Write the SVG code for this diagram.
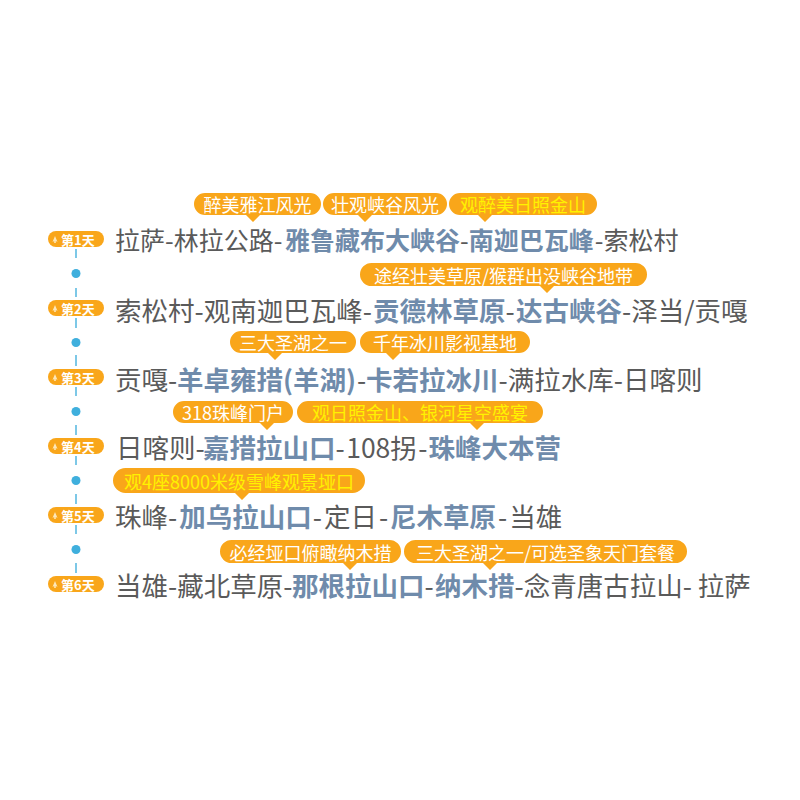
<svg xmlns="http://www.w3.org/2000/svg" width="800" height="800" viewBox="0 0 800 800">
<style>
text{font-family:"Noto Sans CJK SC","Noto Sans",sans-serif;dominant-baseline:central}
.main{fill:#5a5a5a;font-size:26.5px}
.hl{fill:#6f8bab;font-weight:bold}
.bub{fill:#f9a61a}
.bt{fill:#ffffff;font-size:18px;text-anchor:middle}
.by{fill:#fff200;font-size:18px;text-anchor:middle}
.badge{fill:#f9a61a}
.badgetxt{fill:#ffffff;font-size:13px;font-weight:bold}
.icon{fill:#fde7b8}
.tl{stroke:#46b1dd;stroke-width:1.4;fill:none}
.dot{fill:#3fafdd}
</style>
<rect width="800" height="800" fill="#ffffff"/>
<g id="connectors">
<line class="tl" x1="76" y1="249" x2="76" y2="258"/><circle class="dot" cx="76" cy="273.5" r="4.5"/><line class="tl" x1="76" y1="288" x2="76" y2="297"/>
<line class="tl" x1="76" y1="318" x2="76" y2="328"/><circle class="dot" cx="76" cy="342.5" r="4.5"/><line class="tl" x1="76" y1="355" x2="76" y2="366"/>
<line class="tl" x1="76" y1="387" x2="76" y2="396"/><circle class="dot" cx="76" cy="411.5" r="4.5"/><line class="tl" x1="76" y1="425" x2="76" y2="435"/>
<line class="tl" x1="76" y1="456" x2="76" y2="465"/><circle class="dot" cx="76" cy="480.5" r="4.5"/><line class="tl" x1="76" y1="494" x2="76" y2="504"/>
<line class="tl" x1="76" y1="525" x2="76" y2="534"/><circle class="dot" cx="76" cy="549.5" r="4.5"/><line class="tl" x1="76" y1="563" x2="76" y2="573"/>
</g>
<g id="day1">
<rect class="badge" x="48" y="231" width="56" height="16" rx="8"/>
<path class="icon" d="M52.5 242 L55 236 L57.5 242 L55.8 241 L55.8 243 L54.2 243 L54.2 241 Z"/>
<text class="badgetxt" x="61" y="239">第1天</text>
<text class="main" y="239" style="font-size:25px"><tspan x="115">拉萨-林拉公路-</tspan><tspan class="hl" x="285">雅鲁藏布大峡谷</tspan><tspan>-</tspan><tspan class="hl">南迦巴瓦峰</tspan><tspan dx="1">-索松村</tspan></text>
</g>
<g id="day1-tags">
<path class="bub" d="M205 193 H310 A11 11 0 0 1 310 215 H260 L253 222 L246 215 H205 A11 11 0 0 1 205 193 Z"/>
<text class="bt" x="257.5" y="204">醉美雅江风光</text>
<path class="bub" d="M334 193 H436 A11 11 0 0 1 436 215 H372 L365 222 L358 215 H334 A11 11 0 0 1 334 193 Z"/>
<text class="bt" x="385" y="204">壮观峡谷风光</text>
<path class="bub" d="M460 193 H586 A11 11 0 0 1 586 215 H492 L485 222 L478 215 H460 A11 11 0 0 1 460 193 Z"/>
<text class="by" x="523" y="204">观醉美日照金山</text>
</g>
<g id="day2">
<rect class="badge" x="48" y="300" width="56" height="16" rx="8"/>
<path class="icon" d="M52.5 311 L55 305 L57.5 311 L55.8 310 L55.8 312 L54.2 312 L54.2 310 Z"/>
<text class="badgetxt" x="61" y="308">第2天</text>
<text class="main" y="308.5"><tspan x="115">索松村-观南迦巴瓦峰-</tspan><tspan class="hl" x="373">贡德林草原</tspan><tspan>-</tspan><tspan class="hl" x="516">达古峡谷</tspan><tspan>-泽当/贡嘎</tspan></text>
</g>
<g id="day2-tags">
<path class="bub" d="M371.5 263 H635.5 A11.5 11.5 0 0 1 635.5 286 H554 L547 293 L540 286 H371.5 A11.5 11.5 0 0 1 371.5 263 Z"/>
<text class="bt" x="503.5" y="274.5">途经壮美草原/猴群出没峡谷地带</text>
</g>
<g id="day3">
<rect class="badge" x="48" y="369" width="56" height="16" rx="8"/>
<path class="icon" d="M52.5 380 L55 374 L57.5 380 L55.8 379 L55.8 381 L54.2 381 L54.2 379 Z"/>
<text class="badgetxt" x="61" y="377">第3天</text>
<text class="main" y="377.5"><tspan x="115">贡嘎-</tspan><tspan class="hl" x="177">羊卓雍措(羊湖)</tspan><tspan dx="1">-</tspan><tspan class="hl" x="366">卡若拉冰川</tspan><tspan>-满拉水库-日喀则</tspan></text>
</g>
<g id="day3-tags">
<path class="bub" d="M241 331 H345 A11 11 0 0 1 345 353 H282 L275 360 L268 353 H241 A11 11 0 0 1 241 331 Z"/>
<text class="bt" x="293" y="342">三大圣湖之一</text>
<path class="bub" d="M371 331 H519 A11 11 0 0 1 519 353 H400 L393 360 L386 353 H371 A11 11 0 0 1 371 331 Z"/>
<text class="bt" x="445" y="342">千年冰川影视基地</text>
</g>
<g id="day4">
<rect class="badge" x="48" y="438" width="56" height="16" rx="8"/>
<path class="icon" d="M52.5 449 L55 443 L57.5 449 L55.8 448 L55.8 450 L54.2 450 L54.2 448 Z"/>
<text class="badgetxt" x="61" y="446">第4天</text>
<text class="main" y="446"><tspan x="116">日喀则-</tspan><tspan class="hl" x="203">嘉措拉山口</tspan><tspan>-</tspan><tspan dx="1.5">108拐</tspan><tspan dx="1.5">-</tspan><tspan class="hl" dx="1">珠峰大本营</tspan></text>
</g>
<g id="day4-tags">
<path class="bub" d="M184 401 H282 A11 11 0 0 1 282 423 H274 L267 430 L260 423 H184 A11 11 0 0 1 184 401 Z"/>
<text class="bt" x="233" y="412">318珠峰门户</text>
<path class="bub" d="M308 401 H532 A11 11 0 0 1 532 423 H484 L477 430 L470 423 H308 A11 11 0 0 1 308 401 Z"/>
<text class="by" x="420" y="412">观日照金山、银河星空盛宴</text>
</g>
<g id="day5">
<rect class="badge" x="48" y="507" width="56" height="16" rx="8"/>
<path class="icon" d="M52.5 518 L55 512 L57.5 518 L55.8 517 L55.8 519 L54.2 519 L54.2 517 Z"/>
<text class="badgetxt" x="61" y="515">第5天</text>
<text class="main" y="515"><tspan x="115">珠峰-</tspan><tspan class="hl" dx="2">加乌拉山口</tspan><tspan dx="1">-</tspan><tspan dx="2">定日</tspan><tspan dx="2">-</tspan><tspan class="hl" dx="2">尼木草原</tspan><tspan dx="2">-</tspan><tspan dx="2">当雄</tspan></text>
</g>
<g id="day5-tags">
<path class="bub" d="M125.5 468 H352.5 A12.5 12.5 0 0 1 352.5 493 H249 L242 500 L235 493 H125.5 A12.5 12.5 0 0 1 125.5 468 Z"/>
<text class="by" x="239" y="480.5">观4座8000米级雪峰观景垭口</text>
</g>
<g id="day6">
<rect class="badge" x="48" y="576" width="56" height="16" rx="8"/>
<path class="icon" d="M52.5 587 L55 581 L57.5 587 L55.8 586 L55.8 588 L54.2 588 L54.2 586 Z"/>
<text class="badgetxt" x="61" y="584">第6天</text>
<text class="main" y="584"><tspan x="115">当雄-藏北草原-</tspan><tspan class="hl" x="292">那根拉山口</tspan><tspan>-</tspan><tspan class="hl" x="435">纳木措</tspan><tspan>-念青唐古拉山- 拉萨</tspan></text>
</g>
<g id="day6-tags">
<path class="bub" d="M231.5 540 H389.5 A11.5 11.5 0 0 1 389.5 563 H357 L350 570 L343 563 H231.5 A11.5 11.5 0 0 1 231.5 540 Z"/>
<text class="bt" x="310.5" y="551.5">必经垭口俯瞰纳木措</text>
<path class="bub" d="M415.5 540 H675.5 A11.5 11.5 0 0 1 675.5 563 H497 L490 570 L483 563 H415.5 A11.5 11.5 0 0 1 415.5 540 Z"/>
<text class="bt" x="545.5" y="551.5">三大圣湖之一/可选圣象天门套餐</text>
</g>
</svg>
